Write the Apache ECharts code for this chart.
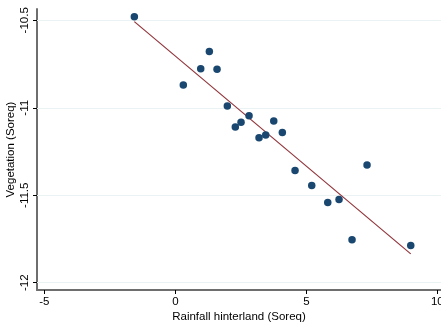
<!DOCTYPE html>
<html>
<head>
<meta charset="utf-8">
<script src="https://cdn.jsdelivr.net/npm/echarts@6/dist/echarts.min.js"></script>
<style>
  html, body { margin: 0; padding: 0; background: #fff; }
  #chart { width: 441px; height: 324px; }
</style>
</head>
<body>
<div id="chart"></div>
<script>
// Rainfall in the hinterland vs. vegetation signal, Soreq record
const rainfall = [-1.565, 0.305, 0.969, 1.298, 1.592, 1.985, 2.29, 2.508, 2.813, 3.195,
                  3.45, 3.756, 4.084, 4.569, 5.206, 5.817, 6.248, 7.317, 6.744, 8.985];
const vegetation = [-10.479, -10.870, -10.777, -10.679, -10.780, -10.990, -11.110, -11.083, -11.045, -11.171,
                    -11.155, -11.075, -11.142, -11.359, -11.445, -11.542, -11.525, -11.327, -11.755, -11.788];
const xTicks = [-5, 0, 5, 10];
const yTicks = [-12, -11.5, -11, -10.5];

const points = rainfall.map((x, i) => [x, vegetation[i]]);

// Ordinary least-squares fit of vegetation on rainfall
const n = rainfall.length;
const mx = rainfall.reduce((a, b) => a + b, 0) / n;
const my = vegetation.reduce((a, b) => a + b, 0) / n;
let sxy = 0, sxx = 0;
for (let i = 0; i < n; i++) {
  sxy += (rainfall[i] - mx) * (vegetation[i] - my);
  sxx += (rainfall[i] - mx) * (rainfall[i] - mx);
}
const slope = sxy / sxx;
const icpt = my - slope * mx;
const xLo = Math.min(...rainfall), xHi = Math.max(...rainfall);
const fit = [[xLo, icpt + slope * xLo], [xHi, icpt + slope * xHi]];

const font = 'Liberation Sans, Arial, Helvetica, sans-serif';
const axisGrey = '#6e6e6e';

const chart = echarts.init(document.getElementById('chart'), null, { renderer: 'canvas' });
chart.setOption({
  animation: false,
  backgroundColor: '#fff',
  grid: { left: 37, right: 0, top: 9, bottom: 34, containLabel: false, outerBoundsMode: 'none' },
  xAxis: {
    type: 'value',
    min: -5.28, max: 10.14,
    name: 'Rainfall hinterland (Soreq)',
    nameLocation: 'middle',
    nameGap: 21,
    nameMoveOverlap: false,
    nameTextStyle: { fontFamily: font, fontSize: 11.5, color: '#000' },
    axisLine: { show: true, onZero: false, lineStyle: { color: axisGrey, width: 2 } },
    axisTick: { show: true, inside: false, length: 4, customValues: xTicks, lineStyle: { color: '#000', width: 1 } },
    axisLabel: { customValues: xTicks, fontFamily: font, fontSize: 11.5, color: '#000', margin: 6,
                 showMinLabel: true, showMaxLabel: true, hideOverlap: false },
    splitLine: { show: false }
  },
  yAxis: {
    type: 'value',
    min: -12.0417, max: -10.4354,
    name: 'Vegetation (Soreq)',
    nameLocation: 'middle',
    nameGap: 26,
    nameMoveOverlap: false,
    nameTextStyle: { fontFamily: font, fontSize: 11.5, color: '#000', verticalAlign: 'middle' },
    axisLine: { show: true, onZero: false, lineStyle: { color: axisGrey, width: 2 } },
    axisTick: { show: true, inside: false, length: 4, customValues: yTicks, lineStyle: { color: '#000', width: 1 } },
    axisLabel: { customValues: yTicks, rotate: 90, fontFamily: font, fontSize: 11.5, color: '#000', margin: 6,
                 showMinLabel: true, showMaxLabel: true, hideOverlap: false },
    splitLine: { show: false }
  },
  series: [
    {
      type: 'line',
      data: fit,
      symbol: 'none',
      lineStyle: { color: '#90353b', width: 1.2 },
      z: 3,
      markLine: {
        silent: true,
        symbol: 'none',
        label: { show: false },
        lineStyle: { color: '#eaf2f3', width: 1.2, type: 'solid' },
        data: yTicks.map(v => ({ yAxis: v })),
        z: 1
      }
    },
    {
      type: 'scatter',
      data: points,
      symbol: 'circle',
      symbolSize: 7.5,
      itemStyle: { color: '#1a476f', opacity: 1 },
      z: 4
    }
  ]
});
</script>
</body>
</html>
